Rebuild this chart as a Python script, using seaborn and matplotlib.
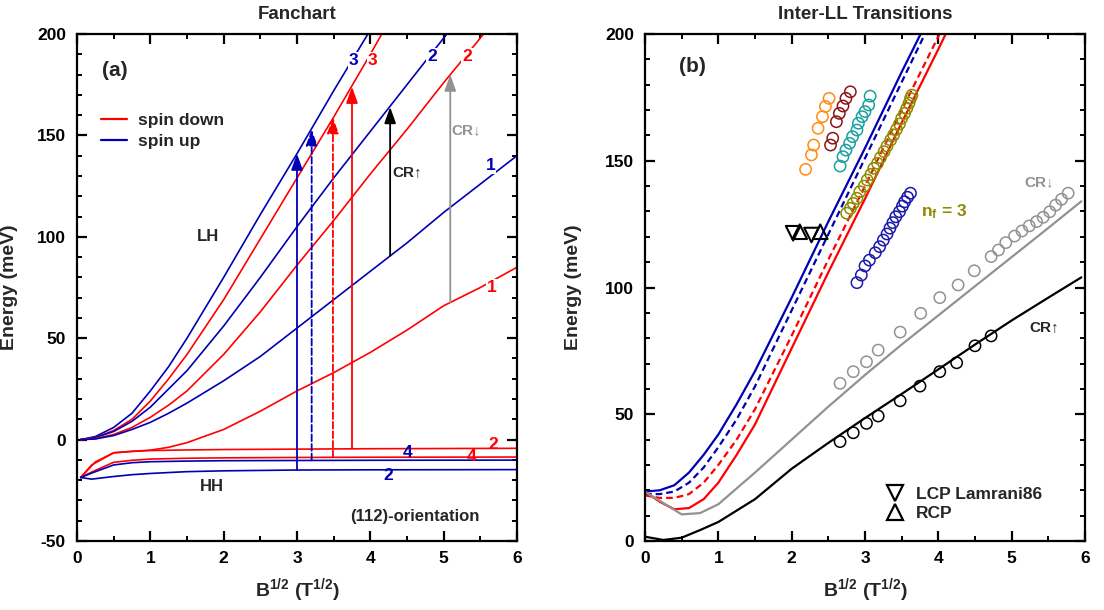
import matplotlib
matplotlib.use("Agg")
import matplotlib.pyplot as plt
import seaborn as sns
from matplotlib.lines import Line2D

# ------------------------------------------------------------------ data (a)
xa_e = [0.05, 0.25, 0.5, 0.75, 1.0, 1.25, 1.5, 2.0, 2.5, 3.0, 3.5, 4.0, 4.5, 5.0, 5.5, 6.0]
lh_blue3 = [0, 1.5, 6, 13, 24, 36, 50, 80, 111, 141, 172, 202]
lh_red3 = [0, 1, 4.5, 10, 19, 30, 42, 69, 99, 129, 159, 190, 222]
lh_blue2 = [0, 1, 4, 9, 16, 25, 34, 56, 80, 105, 129, 152, 175, 198, 221]
lh_red2 = [0, 0.5, 2.5, 6, 11, 17, 24, 42, 63, 86, 108, 131, 153, 176, 198, 221]
lh_blue1 = [0, 0.3, 2, 5, 8.5, 13, 18, 29, 41, 55, 69, 83, 97, 112, 126, 140]
lh_red1 = [-18.7, -11, -6.5, -5.8, -5.2, -3.8, -1.5, 5, 14, 24, 33, 43, 54, 66, 75, 85]

xa_h = [0.05, 0.2, 0.5, 0.75, 1.0, 1.5, 2.0, 3.0, 4.0, 5.0, 6.0]
hh_red2 = [-18.7, -12.5, -6.5, -5.8, -5.4, -5.1, -4.9, -4.7, -4.5, -4.4, -4.3]
hh_red4 = [-18.7, -16, -11.2, -10.2, -9.6, -9.2, -9.0, -8.8, -8.7, -8.65, -8.6]
hh_blue4 = [-18.7, -16.5, -12.5, -11.4, -10.9, -10.6, -10.4, -10.3, -10.2, -10.15, -10.1]
hh_blue2 = [-18.7, -19.5, -18.2, -17.3, -16.7, -15.8, -15.4, -15.0, -14.9, -14.85, -14.8]

arrow_x = [3.0, 3.2, 3.49, 3.75, 4.27, 5.09]
arrow_from = [-14.9, -10.2, -8.7, -4.5, 90.6, 67.6]
arrow_to = [141, 153, 159, 174, 164, 180]

# ------------------------------------------------------------------ data (b)
xb = [0, 0.2, 0.4, 0.6, 0.8, 1.0, 1.25, 1.5, 2.0, 2.5, 3.0, 3.5, 4.0, 4.25]
blue_solid = [19.5, 20, 22, 27, 34, 42, 54, 67, 96, 126, 155, 185, 214]
blue_dash = [18.5, 18.5, 19.5, 23, 29, 37, 48, 61, 91, 121, 151, 181, 211]
red_dash = [18, 17, 17, 18.5, 23, 30, 40, 52, 81, 111, 140, 170, 199, 214]
red_solid = [19.5, 15.5, 12.5, 13, 16.5, 23, 34, 46, 76, 106, 135, 165, 194, 209]

xg = [0, 0.25, 0.5, 0.75, 1.0, 1.5, 2.0, 2.5, 3.0, 3.5, 4.0, 4.5, 5.0, 5.5, 5.95]
cr_down_line = [19.4, 15, 10.5, 11, 14.5, 27, 40, 53, 65.5, 77.5, 89, 100.5, 112, 123.5, 134]
cr_up_line = [1.7, 0.4, 1.3, 4.3, 7.5, 16.5, 28.5, 38.7, 48.5, 58, 67.7, 77.5, 87, 96, 104]

cr_up_x = [2.66, 2.84, 3.02, 3.18, 3.48, 3.75, 4.02, 4.25, 4.50, 4.72]
cr_up_y = [39.2, 42.7, 46.4, 49.3, 55.3, 61.1, 66.8, 70.3, 77.0, 80.9]

cr_down_x = [2.66, 2.84, 3.02, 3.18, 3.48, 3.76, 4.02, 4.27, 4.49, 4.72, 4.82, 4.92,
             5.04, 5.14, 5.24, 5.34, 5.43, 5.52, 5.60, 5.68, 5.77]
cr_down_y = [62.2, 66.8, 70.7, 75.3, 82.4, 89.8, 96.0, 101.0, 106.6, 112.2, 114.8, 117.7,
             120.3, 122.3, 124.3, 126.0, 127.7, 129.9, 132.5, 134.8, 137.2]

navy_x = [2.89, 2.95, 3.00, 3.06, 3.14, 3.20, 3.25, 3.30, 3.34, 3.38, 3.42, 3.47, 3.51, 3.54, 3.58, 3.62]
navy_y = [101.9, 104.9, 108.5, 110.8, 113.7, 116.1, 118.7, 121.1, 123.4, 125.6, 127.9, 129.9,
          132.1, 133.8, 135.6, 137.2]

olive_x = [2.75, 2.80, 2.84, 2.89, 2.93, 2.99, 3.03, 3.08, 3.12, 3.17, 3.21, 3.26, 3.30, 3.35,
           3.39, 3.43, 3.47, 3.50, 3.54, 3.57, 3.60, 3.62, 3.64]
olive_y = [129.3, 131.2, 133.2, 135.2, 137.8, 140.0, 142.4, 144.6, 147.0, 149.0, 151.2, 153.6,
           155.8, 158.2, 160.2, 162.4, 164.5, 166.7, 168.7, 170.7, 172.7, 174.6, 175.9]

teal_x = [2.66, 2.70, 2.74, 2.79, 2.83, 2.89, 2.91, 2.96, 3.00, 3.05, 3.07]
teal_y = [147.9, 151.6, 154.2, 156.9, 159.5, 162.1, 164.8, 167.4, 169.4, 172.0, 175.5]

brown_x = [2.53, 2.56, 2.61, 2.65, 2.70, 2.74, 2.80]
brown_y = [156.2, 158.9, 165.4, 168.7, 171.6, 174.6, 177.2]

orange_x = [2.19, 2.27, 2.30, 2.36, 2.42, 2.46, 2.51]
orange_y = [146.6, 152.3, 156.2, 162.8, 167.4, 171.4, 174.6]

lcp_x = [2.02, 2.27]
lcp_y = [121.4, 120.7]
rcp_x = [2.11, 2.39]
rcp_y = [122.0, 122.0]

# ------------------------------------------------------------------ style
RED = "#ff0000"
BLUE = "#0000b4"
GREY = "#929292"

sns.set_theme(style="ticks")
plt.rcParams.update({
    "font.family": ["Liberation Sans", "DejaVu Sans"],
    "font.weight": "bold",
    "axes.labelweight": "bold",
    "axes.titleweight": "bold",
    "axes.linewidth": 1.6,
    "axes.edgecolor": "black",
    "axes.unicode_minus": False,
    "xtick.direction": "in", "ytick.direction": "in",
    "xtick.top": True, "ytick.right": True,
    "xtick.major.size": 7, "ytick.major.size": 7,
    "xtick.minor.size": 3.5, "ytick.minor.size": 3.5,
    "xtick.major.width": 1.6, "ytick.major.width": 1.6,
    "xtick.minor.width": 1.4, "ytick.minor.width": 1.4,
    "xtick.major.pad": 7, "ytick.major.pad": 8,
    "xtick.labelsize": 12.5, "ytick.labelsize": 12.5,
    "xtick.color": "black", "ytick.color": "black",
    "mathtext.fontset": "custom",
    "mathtext.rm": "Liberation Sans:bold",
    "mathtext.it": "Liberation Sans:bold",
    "mathtext.bf": "Liberation Sans:bold",
})

fig = plt.figure(figsize=(11.04, 6.10), dpi=100)
axA = fig.add_axes([77 / 1104, 1 - 541 / 610, 440 / 1104, 507 / 610])
axB = fig.add_axes([645 / 1104, 1 - 541 / 610, 440 / 1104, 507 / 610])


def line(ax, x, y, color, ls="-", lw=1.2):
    sns.lineplot(x=x[:len(y)], y=y, ax=ax, color=color, linestyle=ls, linewidth=lw,
                 estimator=None, sort=False, legend=False)


def circles(ax, x, y, color, s=66, marker="o", lw=1.1):
    sns.scatterplot(x=x, y=y, ax=ax, marker=marker, s=s, color=color, facecolor="none",
                    edgecolor=color, linewidth=lw, legend=False, zorder=4)


def style_axes(ax, ymin, ymax, title):
    ax.set_xlim(0, 6)
    ax.set_ylim(ymin, ymax)
    ax.set_xticks(range(0, 7))
    ax.set_xticks([i + 0.5 for i in range(6)], minor=True)
    ax.set_yticks(range(ymin, ymax + 1, 50))
    ax.set_yticks([v for v in range(ymin, ymax + 1, 10) if v % 50], minor=True)
    ax.tick_params(which="both", top=True, right=True, direction="in")
    for lab in ax.get_xticklabels() + ax.get_yticklabels():
        lab.set_fontweight("bold")
    ax.set_xlabel(r"B$^{1/2}$ (T$^{1/2}$)", fontsize=14, fontweight="bold")
    ax.set_ylabel("Energy (meV)", fontsize=14, fontweight="bold")
    ax.xaxis.set_label_coords(0.5, -0.07)
    ax.set_title(title, fontsize=13.5, fontweight="bold", pad=11)
    for sp in ax.spines.values():
        sp.set_visible(True)
        sp.set_linewidth(1.6)


# ------------------------------------------------------------------ panel (a)
for yv, c in [(lh_blue3, BLUE), (lh_red3, RED), (lh_blue2, BLUE), (lh_red2, RED),
              (lh_blue1, BLUE), (lh_red1, RED)]:
    line(axA, xa_e, yv, c)
for yv, c in [(hh_red2, RED), (hh_red4, RED), (hh_blue4, BLUE), (hh_blue2, BLUE)]:
    line(axA, xa_h, yv, c)

arrow_colors = [BLUE, BLUE, RED, RED, "black", GREY]
arrow_ls = ["-", "--", "--", "-", "-", "-"]
for x0, y0, y1, c, ls in zip(arrow_x, arrow_from, arrow_to, arrow_colors, arrow_ls):
    axA.annotate("", xy=(x0, y1), xytext=(x0, y0),
                 arrowprops=dict(arrowstyle="-|>,head_length=0.7,head_width=0.25",
                                 color=c, lw=1.3, ls=ls, shrinkA=0, shrinkB=0,
                                 mutation_scale=14), zorder=3)

wb = dict(facecolor="white", edgecolor="none", pad=0.6)
lab_kw = dict(fontsize=12.5, fontweight="bold", ha="center", va="center")
axA.text(3.77, 187, "3", color=BLUE, bbox=wb, **lab_kw)
axA.text(4.03, 187, "3", color=RED, bbox=wb, **lab_kw)
axA.text(4.84, 189, "2", color=BLUE, bbox=wb, **lab_kw)
axA.text(5.32, 189, "2", color=RED, bbox=wb, **lab_kw)
axA.text(5.64, 135, "1", color=BLUE, bbox=wb, **lab_kw)
axA.text(5.66, 75, "1", color=RED, bbox=wb, **lab_kw)
axA.text(5.68, -2.5, "2", color=RED, **lab_kw)
axA.text(5.38, -8.2, "4", color=RED, **lab_kw)
axA.text(4.51, -6.5, "4", color=BLUE, **lab_kw)
axA.text(4.25, -17.5, "2", color=BLUE, **lab_kw)

axA.text(1.79, 100, "LH", fontsize=12, fontweight="bold", ha="center", va="center")
axA.text(1.84, -23, "HH", fontsize=12, fontweight="bold", ha="center", va="center")
axA.text(4.61, -37.8, "(112)-orientation", fontsize=12, fontweight="bold", ha="center", va="center")
axA.text(0.52, 182, "(a)", fontsize=15, fontweight="bold", ha="center", va="center")
axA.text(4.5, 132, "CR\u2191", fontsize=11, fontweight="bold", ha="center", va="center",
         family=["Liberation Sans", "DejaVu Sans"])
axA.text(5.31, 152.7, "CR\u2193", fontsize=11, fontweight="bold", ha="center", va="center",
         color=GREY, family=["Liberation Sans", "DejaVu Sans"])

handles_a = [Line2D([], [], color=RED, lw=1.6), Line2D([], [], color=BLUE, lw=1.6)]
axA.legend(handles_a, ["spin down", "spin up"], loc="upper left",
           bbox_to_anchor=(0.055, 0.845), frameon=False, handlelength=1.5,
           handletextpad=0.6, labelspacing=0.35, borderpad=0, borderaxespad=0,
           prop=dict(size=12.5, weight="bold"))

style_axes(axA, -50, 200, "Fanchart")
axA.yaxis.set_label_coords(-(77 - 18.5) / 440, 0.5)

# ------------------------------------------------------------------ panel (b)
line(axB, xb, blue_solid, BLUE, lw=1.6)
line(axB, xb, blue_dash, BLUE, ls=(0, (3, 1.8)), lw=1.6)
line(axB, xb, red_dash, RED, ls=(0, (3, 1.8)), lw=1.6)
line(axB, xb, red_solid, RED, lw=1.6)
line(axB, xg, cr_down_line, GREY, lw=1.6)
line(axB, xg, cr_up_line, "black", lw=1.6)

circles(axB, cr_up_x, cr_up_y, "black")
circles(axB, cr_down_x, cr_down_y, GREY)
circles(axB, navy_x, navy_y, "#1a1aa8")
circles(axB, olive_x, olive_y, "#8c8c00")
circles(axB, teal_x, teal_y, "#1aa0a0")
circles(axB, brown_x, brown_y, "#8b1515")
circles(axB, orange_x, orange_y, "#ff8c10")
circles(axB, lcp_x, lcp_y, "black", s=110, marker="v", lw=1.5)
circles(axB, rcp_x, rcp_y, "black", s=110, marker="^", lw=1.5)

axB.text(0.65, 187, "(b)", fontsize=15, fontweight="bold", ha="center", va="center")
axB.text(3.77, 130, r"n$_{\rm f}$ = 3", fontsize=12.5, fontweight="bold", color="#8c8c00",
         ha="left", va="center")
axB.text(5.38, 141.6, "CR\u2193", fontsize=11, fontweight="bold", ha="center", va="center",
         color=GREY, family=["Liberation Sans", "DejaVu Sans"])
axB.text(5.45, 84.4, "CR\u2191", fontsize=11, fontweight="bold", ha="center", va="center",
         family=["Liberation Sans", "DejaVu Sans"])

handles_b = [Line2D([], [], ls="none", marker="v", ms=11, mfc="none", mec="black", mew=1.6),
             Line2D([], [], ls="none", marker="^", ms=11, mfc="none", mec="black", mew=1.6)]
axB.legend(handles_b, ["LCP Lamrani86", "RCP"], loc="lower left",
           bbox_to_anchor=(0.545, 0.04), frameon=False, handlelength=1.2,
           handletextpad=0.6, labelspacing=0.2, borderpad=0, borderaxespad=0,
           prop=dict(size=12.5, weight="bold"))

style_axes(axB, 0, 200, "Inter-LL Transitions")
axB.yaxis.set_label_coords(-(645 - 581.5) / 440, 0.5)

fig.savefig("out.png", dpi=100)
